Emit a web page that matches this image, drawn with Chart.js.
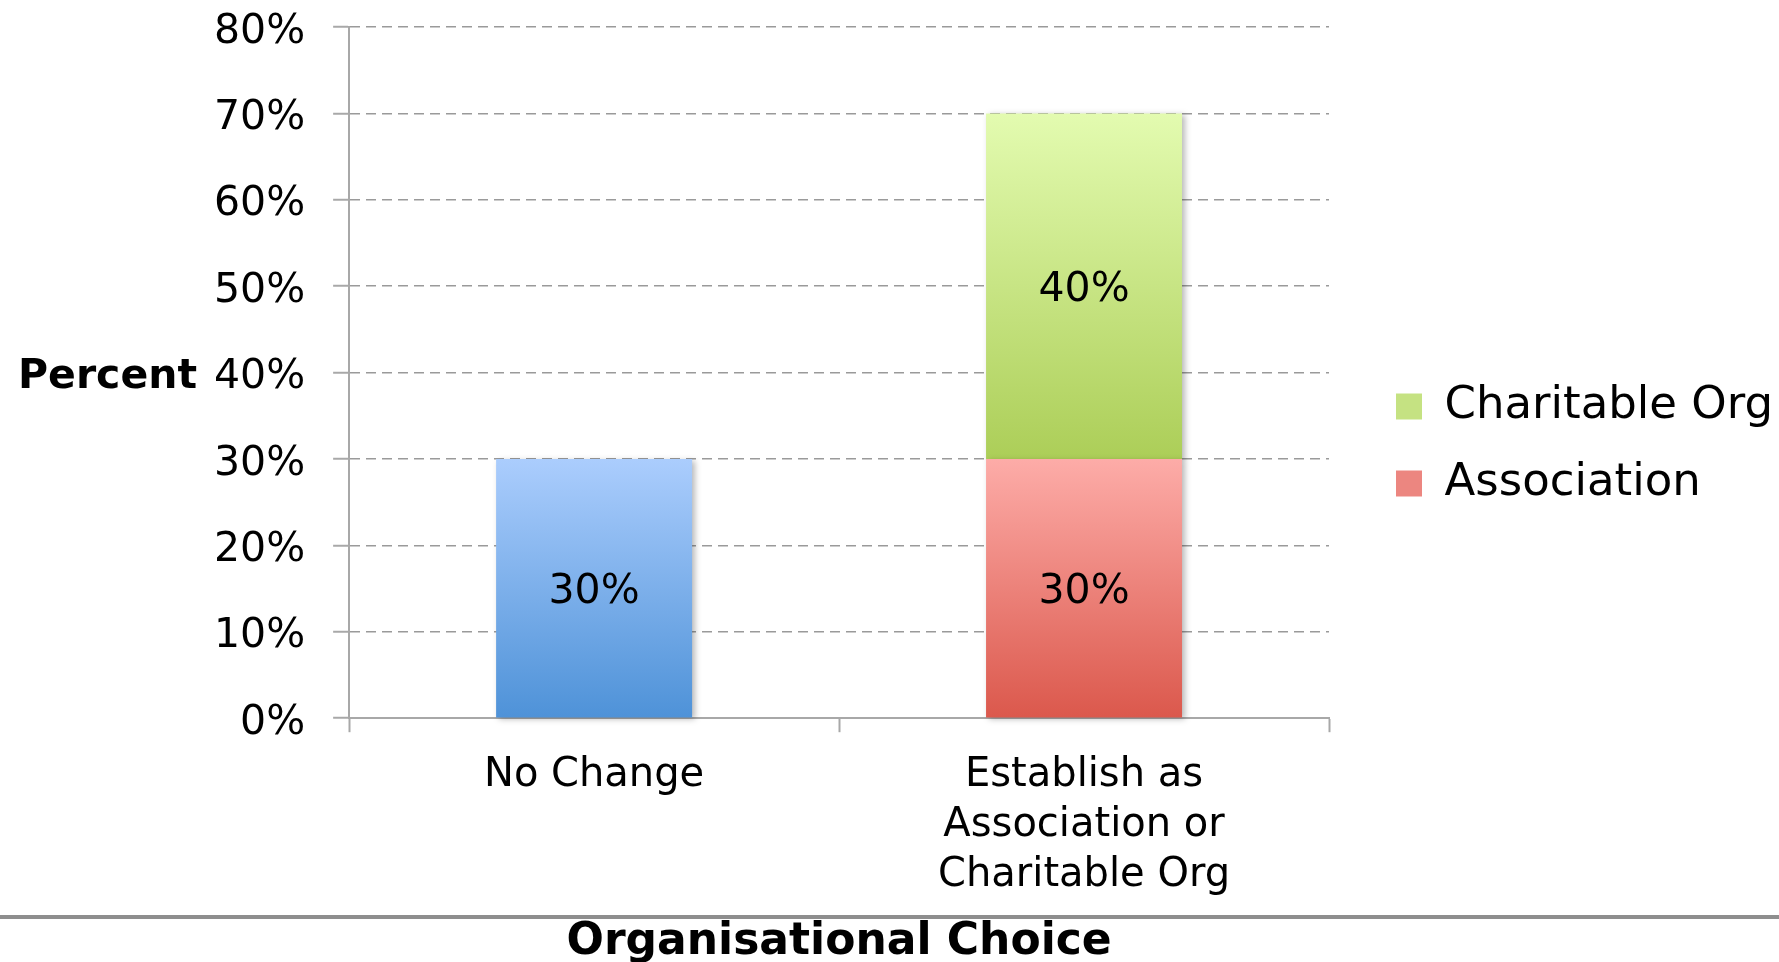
<!DOCTYPE html>
<html lang="en">
<head>
<meta charset="UTF-8">
<title>Organisational Choice</title>
<script src="https://cdn.jsdelivr.net/npm/chart.js"></script>
<style>
  html, body { margin: 0; padding: 0; background: #fff; }
  #wrap { width: 1779px; height: 962px; position: relative; }
</style>
</head>
<body>
<div id="wrap"><canvas id="choiceChart"></canvas></div>
<script>
// data
const categories = [['No Change'], ['Establish as', 'Association or', 'Charitable Org']];
const noChange = [30, null];
const association = [null, 30];
const charitable = [null, 40];
const yMax = 80;
const yStep = 10;

// gradient colours (top, bottom, legend)
const shades = {
  'No Change': ['#abcdfd', '#4e92d8', '#7db0ea'],
  'Association': ['#fdaca8', '#db584c', '#ec8680'],
  'Charitable Org': ['#e3fbb0', '#acce58', '#c5e282']
};

function barFill(ctx) {
  const s = shades[ctx.dataset.label];
  if (ctx.type !== 'data' || ctx.raw == null) return s[2];
  const chart = ctx.chart;
  const ys = chart.scales.y;
  if (!chart.chartArea || !ys) return s[2];
  let start = 0;
  for (let i = 0; i < ctx.datasetIndex; i++) start += chart.data.datasets[i].data[ctx.dataIndex] || 0;
  const end = start + ctx.raw;
  const g = chart.ctx.createLinearGradient(0, ys.getPixelForValue(end), 0, ys.getPixelForValue(start));
  g.addColorStop(0, s[0]);
  g.addColorStop(1, s[1]);
  return g;
}

Chart.defaults.font.family = '"DejaVu Sans", sans-serif';
Chart.defaults.color = '#000';

// move the legend box a bit right/up after layout, give its boxes the bar gradients
const nudgeLegend = {
  id: 'nudgeLegend',
  afterLayout(chart) {
    const lg = chart.legend;
    if (!lg) return;
    lg.left += 35; lg.right += 35;
    lg.top -= 36; lg.bottom -= 36;
    const lab = lg.options.labels;
    const fs = lab.font.size || 45;
    const bh = lab.boxHeight;
    const pad = lab.padding;
    if (!lg.columnSizes || !lg.columnSizes.length) return;
    const y0 = (lg.top + pad + lg.bottom - lg.columnSizes[0].height) / 2;
    lg.legendItems.forEach((item, i) => {
      const s = shades[item.text];
      if (!s) return;
      const top = y0 + i * (Math.max(fs, bh) + pad) + (fs - bh) / 2;
      const g = chart.ctx.createLinearGradient(0, top, 0, top + bh);
      g.addColorStop(0, s[0]);
      g.addColorStop(1, s[1]);
      item.fillStyle = g;
    });
  }
};

const extras = {
  id: 'extras',
  beforeDatasetsDraw(chart) {
    const c = chart.ctx;
    c.save();
    c.shadowColor = 'rgba(0,0,0,0.28)';
    c.shadowBlur = 6;
    c.shadowOffsetX = 3;
    c.shadowOffsetY = 2;
  },
  afterDatasetsDraw(chart) {
    const c = chart.ctx;
    c.restore();
    c.save();
    c.font = '41px "DejaVu Sans"';
    c.fillStyle = '#000';
    c.textAlign = 'center';
    c.textBaseline = 'middle';
    chart.data.datasets.forEach((ds, di) => {
      chart.getDatasetMeta(di).data.forEach((bar, i) => {
        const v = ds.data[i];
        if (v == null) return;
        const p = bar.getCenterPoint();
        c.fillText(v + '%', p.x, p.y + 4);
      });
    });
    c.restore();
  },
  afterDraw(chart) {
    const c = chart.ctx;
    const ys = chart.scales.y;
    const xs = chart.scales.x;
    c.save();
    c.font = 'bold 41px "DejaVu Sans"';
    c.fillStyle = '#000';
    c.textAlign = 'right';
    c.textBaseline = 'middle';
    c.fillText('Percent', ys.left + 11, (ys.top + ys.bottom) / 2 + 5);
    // separator above the axis title
    c.fillStyle = '#8e8e8e';
    c.fillRect(0, xs.bottom - 47, chart.width, 4);
    c.restore();
  }
};

new Chart(document.getElementById('choiceChart'), {
  type: 'bar',
  data: {
    labels: categories,
    datasets: [
      { label: 'No Change', data: noChange, backgroundColor: barFill },
      { label: 'Association', data: association, backgroundColor: barFill },
      { label: 'Charitable Org', data: charitable, backgroundColor: barFill }
    ]
  },
  options: {
    responsive: true,
    maintainAspectRatio: false,
    animation: false,
    datasets: { bar: { categoryPercentage: 0.4, barPercentage: 1, borderWidth: 0, clip: false } },
    layout: { padding: { left: 186, right: 31, top: 0, bottom: 0 } },
    plugins: {
      tooltip: { enabled: false },
      legend: {
        position: 'right',
        reverse: true,
        maxWidth: 440,
        labels: {
          filter: item => item.text !== 'No Change',
          boxWidth: 26,
          boxHeight: 26,
          padding: 32,
          color: '#000',
          font: { size: 45 }
        }
      }
    },
    scales: {
      x: {
        stacked: true,
        grid: { display: true, drawOnChartArea: false, drawTicks: true, tickLength: 14, tickColor: '#a8a8a8', tickWidth: 2, offset: true },
        border: { display: true, color: '#a8a8a8', width: 2 },
        ticks: { padding: 18, color: '#000', font: { size: 40, lineHeight: 1.25 }, maxRotation: 0, autoSkip: false },
        title: { display: true, text: 'Organisational Choice', color: '#000', font: { size: 44, weight: 'bold' }, padding: { top: -2, bottom: -7 } }
      },
      y: {
        stacked: true,
        min: 0,
        max: yMax,
        afterFit: scale => { scale.paddingTop = 27; },
        ticks: { stepSize: yStep, padding: 28, labelOffset: 5, color: '#000', font: { size: 41 }, callback: v => v + '%' },
        grid: { color: '#9a9a9a', lineWidth: 1.5, tickLength: 16, tickColor: '#a8a8a8', tickWidth: 2, tickBorderDash: [] },
        border: { display: true, color: '#a8a8a8', width: 2, dash: [10, 6] }
      }
    }
  },
  plugins: [nudgeLegend, extras]
});
</script>
</body>
</html>
